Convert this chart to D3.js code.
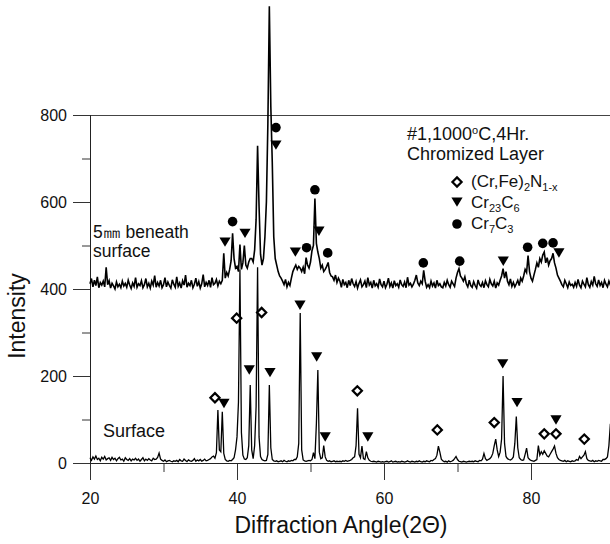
<!DOCTYPE html>
<html>
<head>
<meta charset="utf-8">
<script src="https://cdn.jsdelivr.net/npm/d3@7"></script>
<style>
    body { margin: 0; background: #fff; }
    svg { display: block; font-family: "Liberation Sans", Arial, sans-serif; }
</style>
</head>
<body>
<svg id="chart" width="610" height="544"></svg>
<script>
// scan grid: 2-theta from 20 deg, one count every 0.2 deg
var angleStart = 20,
    angleStep = 0.2;

// surface pattern (counts, 10 per 2 deg)
var surfaceCounts = [
    12, 6, 14, 9, 16, 8, 11, 5, 13, 9,
    15, 7, 10, 12, 6, 13, 8, 11, 5, 10,
    13, 7, 9, 4, 12, 8, 6, 10, 5, 9,
    7, 11, 6, 9, 4, 8, 12, 5, 9, 6,
    10, 7, 5, 11, 8, 9, 13, 23, 9, 6,
    4, 7, 3, 5, 6, 4, 3, 5, 4, 6,
    3, 8, 5, 4, 9, 6, 3, 7, 5, 4,
    6, 10, 4, 7, 5, 8, 4, 6, 9, 5,
    6, 8, 10, 14, 16, 11, 24, 122, 30, 26,
    118, 22, 8, 5, 4, 6, 5, 8, 12, 30,
    60, 140, 445, 70, 18, 9, 8, 12, 40, 179,
    30, 10, 40, 130, 450, 60, 15, 8, 6, 5,
    6, 20, 179, 35, 8, 5, 4, 5, 3, 4,
    5, 3, 6, 4, 3, 5, 4, 6, 5, 8,
    8, 14, 45, 345, 30, 7, 5, 4, 5, 6,
    5, 8, 24, 10, 90, 214, 25, 10, 12, 40,
    14, 6, 4, 5, 3, 4, 5, 3, 4, 3,
    4, 3, 5, 4, 6, 4, 5, 6, 8, 12,
    14, 40, 126, 20, 12, 39, 10, 8, 26, 12,
    6, 4, 3, 4, 3, 2, 4, 3, 2, 3,
    2, 3, 4, 2, 3, 5, 2, 3, 4, 2,
    3, 2, 4, 3, 2, 3, 5, 3, 2, 4,
    3, 2, 4, 3, 5, 3, 2, 4, 3, 5,
    4, 3, 6, 5, 8, 10, 18, 39, 25, 9,
    5, 3, 4, 2, 5, 3, 4, 6, 10, 15,
    8, 4, 3, 2, 4, 3, 2, 3, 4, 3,
    4, 3, 5, 4, 3, 6, 5, 9, 22, 10,
    6, 8, 10, 14, 22, 40, 55, 30, 15, 25,
    55, 200, 45, 15, 10, 8, 7, 9, 14, 45,
    107, 35, 12, 8, 6, 7, 20, 34, 12, 8,
    6, 5, 4, 6, 8, 40, 18, 26, 20, 28,
    22, 16, 14, 20, 26, 32, 39, 22, 12, 8,
    6, 5, 4, 6, 3, 5, 4, 3, 5, 4,
    5, 8, 6, 15, 10, 14, 18, 26, 10, 6,
    5, 4, 6, 3, 5, 4, 6, 5, 4, 8,
    8, 10, 14, 40, 90, 60, 20, 10, 8, 6
];

// 5mm beneath surface pattern (already offset by 400)
var beneathCounts = [
    412, 424, 405, 420, 408, 428, 403, 415, 409, 418,
    405, 450, 410, 419, 402, 413, 407, 400, 416, 405,
    411, 403, 418, 407, 413, 404, 420, 409, 401, 414,
    406, 426, 404, 412, 408, 419, 403, 410, 424, 405,
    413, 402, 418, 409, 431, 404, 415, 407, 420, 403,
    410, 426, 405, 416, 408, 402, 421, 411, 404, 428,
    406, 414, 402, 419, 409, 432, 404, 413, 408, 420,
    403, 411, 425, 406, 417, 402, 412, 433, 405, 415,
    408, 420, 404, 426, 410, 413, 422, 407, 418, 412,
    420, 482, 425, 438, 430, 445, 465, 528, 470, 448,
    452, 440, 502, 445, 460, 500, 455, 448, 462, 470,
    470, 462, 490, 560, 729, 590, 480, 455, 470, 520,
    600, 780, 1050, 820, 690, 520, 470, 455, 440, 430,
    425, 418, 410, 422, 405, 415, 408, 425, 440, 448,
    455, 445, 452, 448, 440, 450, 435, 472, 455, 448,
    462, 488, 500, 608, 505, 485, 470, 448, 455, 440,
    445, 452, 461, 438, 430, 428, 420, 432, 415, 425,
    418, 404, 422, 410, 415, 403, 420, 408, 424, 412,
    406, 417, 402, 413, 421, 405, 410, 418, 403, 426,
    409, 415, 402, 420, 407, 412, 404, 423, 410, 405,
    418, 403, 411, 425, 406, 414, 402, 419, 408, 412,
    404, 421, 410, 406, 416, 403, 427, 409, 413, 405,
    411, 420, 432, 414, 408, 418, 412, 443, 418, 404,
    410, 403, 418, 407, 414, 402, 420, 408, 412, 405,
    403, 415, 407, 420, 410, 404, 418, 412, 406, 425,
    438, 447, 430, 425, 418, 428, 412, 405, 420, 408,
    404, 417, 408, 402, 421, 410, 406, 415, 403, 419,
    410, 405, 422, 412, 407, 418, 402, 414, 409, 420,
    430, 447, 425, 440, 418, 410, 423, 406, 415, 405,
    412, 420, 408, 425, 418, 430, 445, 438, 477, 440,
    425, 418, 432, 445, 460, 450, 470, 462, 478, 485,
    460, 472, 455, 465, 470, 482, 460, 448, 432, 425,
    418, 410, 405, 420, 412, 403, 416, 408, 411, 404,
    415, 406, 422, 409, 403, 418, 411, 405, 426, 410,
    404, 417, 409, 429, 412, 406, 421, 408, 415, 403,
    420, 411, 405, 418, 409, 415, 404, 412, 408, 416
];

// phase markers [2theta, intensity]
var nitrideMarks = [[37.0, 150], [39.95, 333], [43.35, 346], [56.37, 166], [67.25, 76],
    [75.0, 93], [81.8, 67], [83.4, 67], [87.25, 55]];
var carbide236Marks = [[38.23, 137], [41.67, 214], [44.49, 208], [48.57, 363], [50.84, 244],
    [52.0, 60], [57.8, 60], [76.15, 228], [78.1, 139], [83.4, 99],
    [38.37, 508], [41.09, 528], [45.3, 731], [47.94, 485], [51.15, 533], [76.23, 464], [83.8, 483]];
var carbide73Marks = [[39.4, 555], [45.3, 771], [49.47, 495], [50.6, 628], [52.34, 483],
    [65.35, 460], [70.3, 464], [79.54, 496], [81.6, 505], [83.0, 506]];

var xMajorTicks = [20, 40, 60, 80],
    xMinorTicks = [30, 50, 70],
    yMajorTicks = [0, 200, 400, 600, 800],
    yMinorTicks = [100, 300, 500, 700];

var svg = d3.select('#chart');

var x = d3.scaleLinear().domain([20, 90]).range([90, 604.5]);
var y = d3.scaleLinear().domain([0, 800]).range([463, 115]);

function toPoints(counts) {
    return counts.map(function(c, i) {
        return [angleStart + i * angleStep, c];
    });
}

var line = d3.line()
    .x(function(d) { return x(d[0]); })
    .y(function(d) { return y(d[1]); });

// axes
var xAxisG = svg.append('g').attr('transform', 'translate(0,' + y(0) + ')');
xAxisG.call(d3.axisBottom(x).tickValues(xMajorTicks).tickSize(17).tickPadding(13).tickFormat(d3.format('d')));
xAxisG.call(function(g) {
    g.append('g').call(d3.axisBottom(x).tickValues(xMinorTicks).tickSize(9).tickFormat(''))
        .select('.domain').remove();
});

var yAxisG = svg.append('g').attr('transform', 'translate(' + x(20) + ',0)');
yAxisG.call(d3.axisLeft(y).tickValues(yMajorTicks).tickSize(17).tickPadding(6).tickFormat(d3.format('d')));
yAxisG.call(function(g) {
    g.append('g').call(d3.axisLeft(y).tickValues(yMinorTicks).tickSize(8).tickFormat(''))
        .select('.domain').remove();
});

svg.selectAll('.domain').remove();
svg.selectAll('.tick line').attr('stroke', '#333');
svg.selectAll('.tick text')
    .attr('font-size', 16)
    .attr('font-family', '"Liberation Sans", Arial, sans-serif')
    .attr('fill', '#111');

// axis lines + top frame
svg.append('line')
    .attr('x1', x(20)).attr('x2', 610)
    .attr('y1', y(0) + 0.5).attr('y2', y(0) + 0.5)
    .attr('stroke', '#222');
svg.append('line')
    .attr('x1', x(20)).attr('x2', 610)
    .attr('y1', y(800) + 0.5).attr('y2', y(800) + 0.5)
    .attr('stroke', '#444');
svg.append('line')
    .attr('x1', x(20) + 0.5).attr('x2', x(20) + 0.5)
    .attr('y1', y(800)).attr('y2', y(0))
    .attr('stroke', '#222');

// patterns
svg.append('path')
    .datum(toPoints(surfaceCounts))
    .attr('d', line)
    .attr('fill', 'none')
    .attr('stroke', '#000')
    .attr('stroke-width', 1.3);

svg.append('path')
    .datum(toPoints(beneathCounts))
    .attr('d', line)
    .attr('fill', 'none')
    .attr('stroke', '#000')
    .attr('stroke-width', 1.6);

// markers
var shapes = {
    diamond: 'M0,-4.6L4.6,0L0,4.6L-4.6,0Z',
    triangle: 'M-5.6,-4.6L5.6,-4.6L0,4.8Z'
};

function drawMark(type, px, py) {
    if (type === 'circle') {
        svg.append('circle')
            .attr('cx', px).attr('cy', py).attr('r', 4.8)
            .attr('fill', '#000');
    } else if (type === 'diamond') {
        svg.append('path')
            .attr('d', shapes.diamond)
            .attr('transform', 'translate(' + px + ',' + py + ')')
            .attr('fill', '#fff').attr('stroke', '#000').attr('stroke-width', 2.2);
    } else {
        svg.append('path')
            .attr('d', shapes.triangle)
            .attr('transform', 'translate(' + px + ',' + py + ')')
            .attr('fill', '#000');
    }
}

nitrideMarks.forEach(function(d) { drawMark('diamond', x(d[0]), y(d[1])); });
carbide236Marks.forEach(function(d) { drawMark('triangle', x(d[0]), y(d[1])); });
carbide73Marks.forEach(function(d) { drawMark('circle', x(d[0]), y(d[1])); });

// text
function label(tx, ty, size) {
    return svg.append('text')
        .attr('x', tx).attr('y', ty)
        .attr('font-size', size)
        .attr('fill', '#111');
}

var t1 = label(407, 140, 18);
t1.append('tspan').text('#1,1000');
t1.append('tspan').attr('font-size', 11).attr('dy', -6).text('o');
t1.append('tspan').attr('dy', 6).text('C,4Hr.');
label(407, 160, 18).text('Chromized Layer');

drawMark('diamond', 457, 182);
drawMark('triangle', 457, 202);
drawMark('circle', 457, 224);

var l1 = label(471, 187, 17);
l1.append('tspan').text('(Cr,Fe)');
l1.append('tspan').attr('font-size', 11).attr('dy', 4).text('2');
l1.append('tspan').attr('dy', -4).text('N');
l1.append('tspan').attr('font-size', 11).attr('dy', 4).text('1-x');

var l2 = label(471, 208, 17);
l2.append('tspan').text('Cr');
l2.append('tspan').attr('font-size', 11).attr('dy', 4).text('23');
l2.append('tspan').attr('dy', -4).text('C');
l2.append('tspan').attr('font-size', 11).attr('dy', 4).text('6');

var l3 = label(471, 229, 17);
l3.append('tspan').text('Cr');
l3.append('tspan').attr('font-size', 11).attr('dy', 4).text('7');
l3.append('tspan').attr('dy', -4).text('C');
l3.append('tspan').attr('font-size', 11).attr('dy', 4).text('3');

label(93, 238, 17.5).text('5㎜ beneath');
label(93, 257, 17.5).text('surface');
label(103, 437, 18).text('Surface');

label(341, 533, 23).attr('text-anchor', 'middle').text('Diffraction Angle(2Θ)');
svg.append('text')
    .attr('transform', 'translate(25,316) rotate(-90)')
    .attr('text-anchor', 'middle')
    .attr('font-size', 23)
    .attr('fill', '#111')
    .text('Intensity');
</script>
</body>
</html>
